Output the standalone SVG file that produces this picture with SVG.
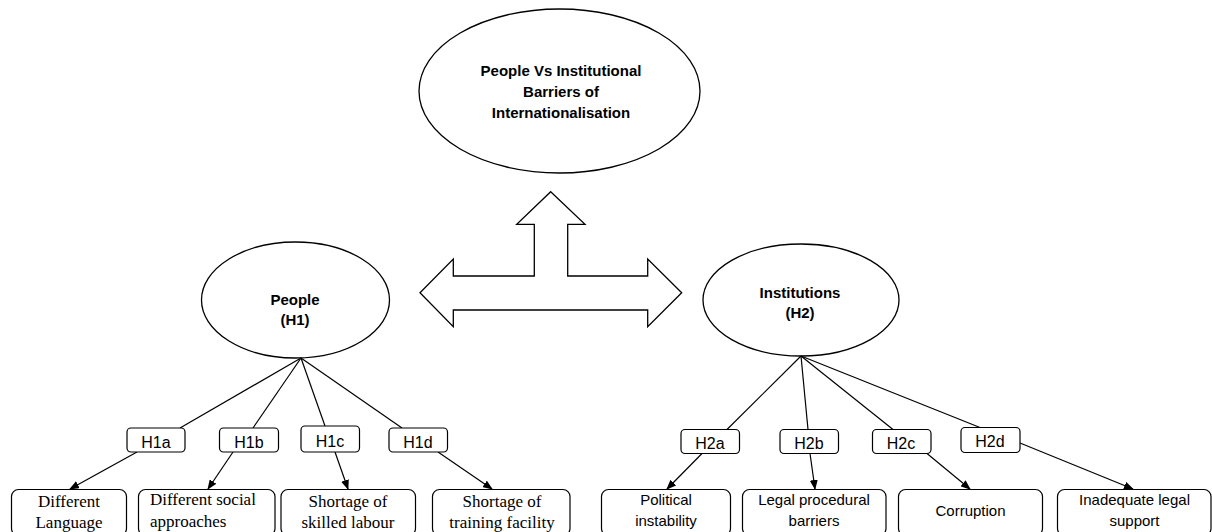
<svg xmlns="http://www.w3.org/2000/svg" width="1212" height="532" viewBox="0 0 1212 532">
<style>
.shape{fill:#fff;stroke:#000;stroke-width:1.3}
.box{fill:#fff;stroke:#000;stroke-width:1.2}
.ln{fill:none;stroke:#000;stroke-width:1.2}
.bold{font-family:"Liberation Sans",Arial,sans-serif;font-weight:bold;font-size:15px;text-anchor:middle;fill:#000}
.sans{font-family:"Liberation Sans",Arial,sans-serif;font-size:15px;text-anchor:middle;fill:#000}
.hl{font-family:"Liberation Sans",Arial,sans-serif;font-size:16px;text-anchor:middle;fill:#000}
.serif{font-family:"Liberation Serif","Times New Roman",serif;font-size:17px;text-anchor:middle;fill:#000}
.start{text-anchor:start}
</style>
<defs>
<marker id="ah" markerWidth="10" markerHeight="8" refX="9" refY="4" orient="auto" markerUnits="userSpaceOnUse">
<path d="M0,0 L10,4 L0,8 Z" fill="#000"/>
</marker>
</defs>
<rect width="1212" height="532" fill="#fff"/>

<g id="top">
<ellipse class="shape" cx="559.5" cy="91" rx="140.5" ry="82"/>
<text class="bold" x="561" y="76">People Vs Institutional</text>
<text class="bold" x="561" y="97">Barriers of</text>
<text class="bold" x="561" y="118">Internationalisation</text>
</g>

<g id="bigarrow">
<polygon class="shape" points="550.7,191.7 585,224.3 567.7,224.3 567.7,276 647.7,276 647.7,259 681.7,292.7 647.7,326.7 647.7,310 453.3,310 453.3,326.7 420,292.7 453.3,259 453.3,276 534.3,276 534.3,224.3 516.7,224.3"/>
</g>

<g id="people">
<ellipse class="shape" cx="295.5" cy="300" rx="94" ry="58"/>
<text class="bold" x="295" y="305">People</text>
<text class="bold" x="295" y="325">(H1)</text>
</g>

<g id="institutions">
<ellipse class="shape" cx="801" cy="300" rx="98" ry="56"/>
<text class="bold" x="800" y="298">Institutions</text>
<text class="bold" x="800" y="318">(H2)</text>
</g>

<g id="connectors">
<line class="ln" x1="301" y1="358" x2="180" y2="428"/>
<line class="ln" x1="301" y1="358" x2="253" y2="428"/>
<line class="ln" x1="301" y1="358" x2="325" y2="426"/>
<line class="ln" x1="301" y1="358" x2="402" y2="428"/>
<line class="ln" x1="801" y1="356" x2="727" y2="429.5"/>
<line class="ln" x1="801" y1="356" x2="808" y2="429.5"/>
<line class="ln" x1="801" y1="356" x2="893" y2="429.5"/>
<line class="ln" x1="801" y1="356" x2="980" y2="427.5"/>
<line class="ln" marker-end="url(#ah)" x1="137" y1="452" x2="70" y2="489"/>
<line class="ln" marker-end="url(#ah)" x1="233" y1="452" x2="208" y2="489"/>
<line class="ln" marker-end="url(#ah)" x1="335" y1="452" x2="348" y2="489"/>
<line class="ln" marker-end="url(#ah)" x1="438" y1="452" x2="492" y2="489"/>
<line class="ln" marker-end="url(#ah)" x1="702" y1="453.5" x2="667" y2="489"/>
<line class="ln" marker-end="url(#ah)" x1="810" y1="453.5" x2="815" y2="489"/>
<line class="ln" marker-end="url(#ah)" x1="927" y1="453.5" x2="970" y2="489"/>
<line class="ln" marker-end="url(#ah)" x1="1020" y1="443" x2="1133" y2="489"/>
</g>

<g id="H1a"><rect class="box" x="127" y="428" width="58" height="24" rx="4"/><text class="hl" x="156" y="448">H1a</text></g>
<g id="H1b"><rect class="box" x="219.5" y="428" width="59" height="24" rx="4"/><text class="hl" x="249" y="448">H1b</text></g>
<g id="H1c"><rect class="box" x="301" y="426" width="58.5" height="26" rx="4"/><text class="hl" x="330" y="447">H1c</text></g>
<g id="H1d"><rect class="box" x="389" y="428" width="58.5" height="24" rx="4"/><text class="hl" x="418" y="448">H1d</text></g>
<g id="H2a"><rect class="box" x="681" y="429.5" width="58.5" height="24" rx="4"/><text class="hl" x="710" y="449">H2a</text></g>
<g id="H2b"><rect class="box" x="780" y="429.5" width="58.5" height="24" rx="4"/><text class="hl" x="809" y="449">H2b</text></g>
<g id="H2c"><rect class="box" x="872.5" y="429.5" width="58.5" height="24" rx="4"/><text class="hl" x="901" y="449">H2c</text></g>
<g id="H2d"><rect class="box" x="961" y="427.5" width="59" height="25" rx="4"/><text class="hl" x="990" y="447">H2d</text></g>

<g id="b1"><rect class="box" x="11.5" y="489.5" width="115" height="46" rx="7"/><text class="serif" x="69" y="507">Different</text><text class="serif" x="69" y="528">Language</text></g>
<g id="b2"><rect class="box" x="138.5" y="489.5" width="136.5" height="46" rx="7"/><text class="serif start" x="150" y="505">Different social</text><text class="serif start" x="150" y="527">approaches</text></g>
<g id="b3"><rect class="box" x="281" y="489.5" width="134.5" height="46" rx="7"/><text class="serif" x="348" y="507">Shortage of</text><text class="serif" x="348" y="528">skilled labour</text></g>
<g id="b4"><rect class="box" x="432.5" y="489.5" width="137.5" height="46" rx="7"/><text class="serif" x="502" y="507">Shortage of</text><text class="serif" x="502" y="528">training facility</text></g>
<g id="b5"><rect class="box" x="601.5" y="489.5" width="129" height="46" rx="7"/><text class="sans" x="666" y="505">Political</text><text class="sans" x="666" y="526">instability</text></g>
<g id="b6"><rect class="box" x="742.5" y="489.5" width="143.5" height="46" rx="7"/><text class="sans" x="814" y="505">Legal procedural</text><text class="sans" x="814" y="526">barriers</text></g>
<g id="b7"><rect class="box" x="898.5" y="489.5" width="144" height="46" rx="7"/><text class="sans" x="970.5" y="516">Corruption</text></g>
<g id="b8"><rect class="box" x="1057.5" y="489.5" width="153.5" height="46" rx="7"/><text class="sans" x="1134.5" y="505">Inadequate legal</text><text class="sans" x="1134.5" y="526">support</text></g>
</svg>
